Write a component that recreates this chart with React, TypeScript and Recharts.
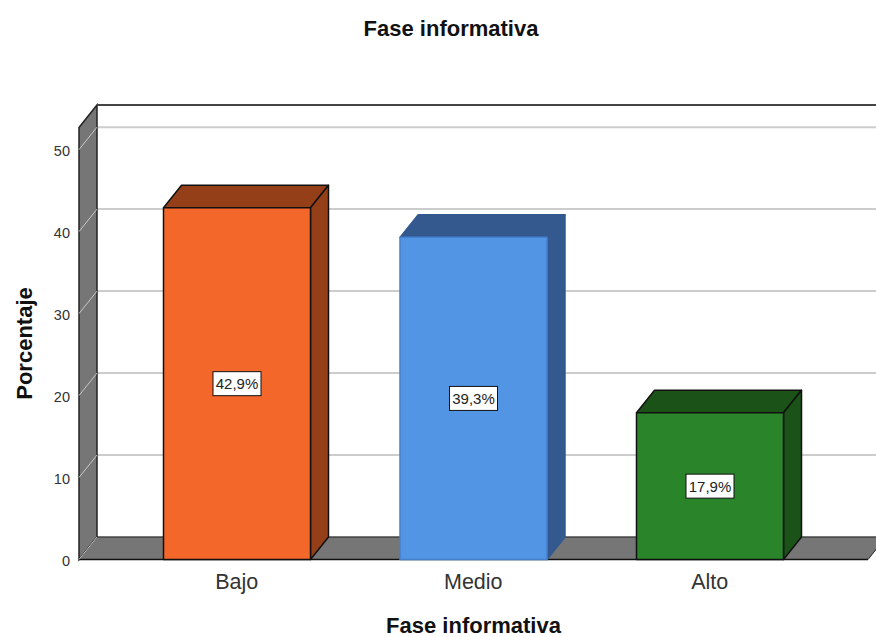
import { BarChart, Bar, XAxis, YAxis, CartesianGrid, LabelList, ReferenceLine, usePlotArea } from "recharts";

const categories = ["Bajo", "Medio", "Alto"];
const percentages = [42.9, 39.3, 17.9];
const yTicks = [0, 10, 20, 30, 40, 50];
const frontColors = ["#f4672a", "#5295e5", "#2a852a"];
const sideColors = ["#953f19", "#33598f", "#1a5218"];
const frontEdges = ["#111", "#4580cc", "#111"];
const sideEdges = ["#111", "#33598f", "#111"];

const data = categories.map((name, i) => ({ name, value: percentages[i] }));

// depth of the fake 3D box
const DX = 18;
const DY = -22.5;
const WALL = "#767676";

function Box3D(props: any) {
  const { x, y, width, height, index } = props;
  const r = x + width;
  const b = y + height;
  return (
    <g strokeWidth={1.5} strokeLinejoin="round">
      <g stroke={sideEdges[index]}>
        <polygon points={`${x},${y} ${x + DX},${y + DY} ${r + DX},${y + DY} ${r},${y}`} fill={sideColors[index]} />
        <polygon points={`${r},${y} ${r + DX},${y + DY} ${r + DX},${b + DY} ${r},${b}`} fill={sideColors[index]} />
      </g>
      <rect x={x} y={y} width={width} height={height} fill={frontColors[index]} stroke={frontEdges[index]} />
    </g>
  );
}

// left wall, floor and top edge, sized from the plot area
function Room() {
  const plot = usePlotArea();
  if (!plot) return null;
  const { x, y, width, height } = plot;
  const r = x + width;
  const b = y + height;
  return (
    <g>
      <polygon points={`${x},${y} ${x + DX},${y + DY} ${x + DX},${b + DY} ${x},${b}`} fill={WALL} stroke="#222" strokeWidth={1.5} />
      <polygon points={`${x},${b} ${x + DX},${b + DY} ${r + DX},${b + DY} ${r},${b}`} fill={WALL} stroke="#222" strokeWidth={1} />
      <line x1={x + DX} y1={y + DY} x2={r + DX} y2={y + DY} stroke="#444" strokeWidth={2} />
      <line x1={x} y1={b} x2={r} y2={b} stroke="#111" strokeWidth={1.5} />
    </g>
  );
}

function GridLine(props: any) {
  const { x1, x2, y1 } = props;
  return <line key={props.key} x1={x1 + DX} y1={y1 + DY} x2={x2 + DX} y2={y1 + DY} stroke="#cccccc" strokeWidth={2} />;
}

// slanted part of a grid line, on top of the wall
function WallLine(props: any) {
  const plot = usePlotArea();
  if (!plot) return null;
  return (
    <line x1={plot.x} y1={props.y1} x2={plot.x + DX} y2={props.y1 + DY} stroke="#c8c8c8" strokeWidth={1} />
  );
}

function ValueBox(props: any) {
  const { x, y, width, height, value } = props;
  const cx = x + width / 2;
  const cy = y + height / 2;
  return (
    <g>
      <rect x={cx - 24} y={cy - 12} width={48} height={24} fill="#fff" stroke="#111" strokeWidth={1} />
      <text x={cx} y={cy + 5.5} textAnchor="middle" fontSize={15} fill="#222" fontFamily="Liberation Sans">
        {value.toFixed(1).replace(".", ",")}%
      </text>
    </g>
  );
}

const axisFont = "Liberation Sans";

export default function App() {
  return (
    <div style={{ position: "absolute", left: 0, top: 0, width: 876, height: 637, background: "#fff" }}>
      <div
        style={{
          position: "absolute",
          left: 0,
          width: 902,
          top: 16,
          textAlign: "center",
          font: "bold 22px 'Liberation Sans'",
          color: "#111",
        }}
      >
        Fase informativa
      </div>
      <BarChart
        width={876}
        height={637}
        data={data}
        margin={{ top: 127.5, right: 8, bottom: 37.5, left: 0 }}
      >
        <Room />
        <CartesianGrid vertical={false} horizontal={GridLine as any} />
        <XAxis
          dataKey="name"
          height={40}
          padding={{ left: 39.5, right: 40 }}
          axisLine={false}
          tickLine={false}
          tick={{ fontSize: 21.5, fill: "#333", fontFamily: axisFont, dy: 2 }}
          tickMargin={6}
          label={{
            value: "Fase informativa",
            position: "insideBottom",
            offset: -33,
            style: { fontSize: 22, fontWeight: 700, fill: "#111", fontFamily: axisFont },
          }}
        />
        <YAxis
          width={79}
          domain={[0, 52.7]}
          ticks={yTicks}
          axisLine={false}
          tickLine={false}
          tickMargin={3}
          tick={{ fontSize: 14.5, fill: "#333", fontFamily: axisFont, dy: 1 }}
          label={{
            value: "Porcentaje",
            angle: -90,
            position: "insideLeft",
            offset: 24,
            style: { fontSize: 22, fontWeight: 700, fill: "#111", fontFamily: axisFont, textAnchor: "middle" },
          }}
        />
        {yTicks.map((t) => (
          <ReferenceLine key={t} y={t} shape={<WallLine />} />
        ))}
        <Bar dataKey="value" barSize={147} shape={<Box3D />} isAnimationActive={false}>
          <LabelList dataKey="value" content={<ValueBox />} />
        </Bar>
      </BarChart>
    </div>
  );
}
